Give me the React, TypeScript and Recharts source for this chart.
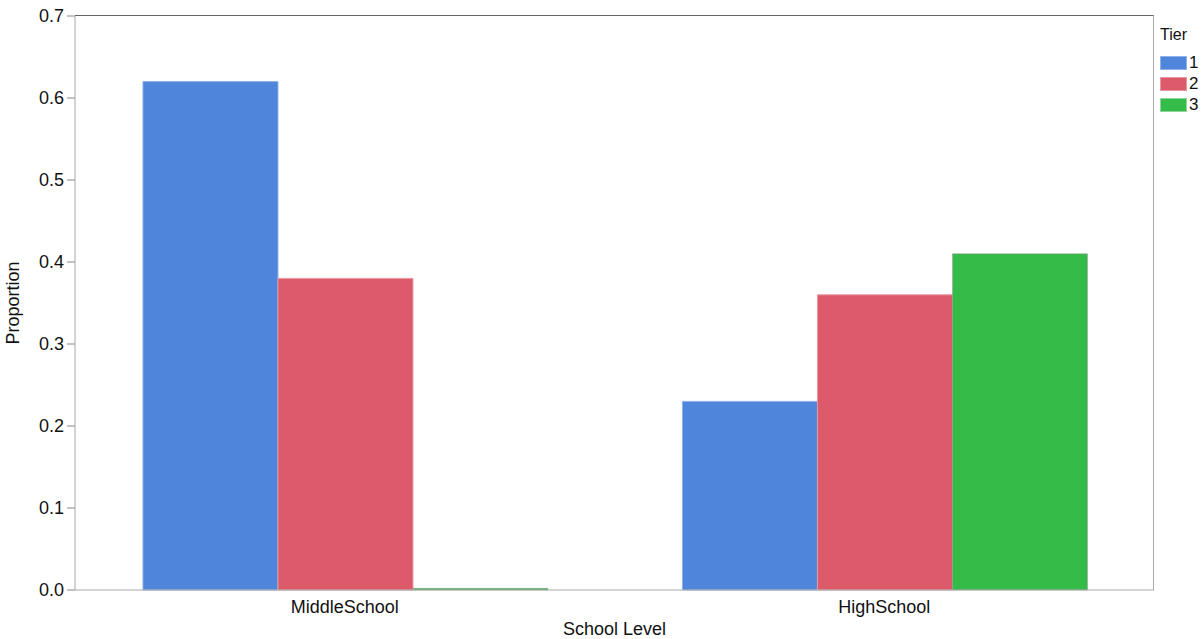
import React from "react";
import { BarChart, Bar, XAxis, YAxis, Label } from "recharts";

const categories = ["MiddleSchool", "HighSchool"];
const tiers = ["1", "2", "3"];
const tier1 = [0.62, 0.23];
const tier2 = [0.38, 0.36];
const tier3 = [0.002, 0.41];
const yTicks = [0, 0.1, 0.2, 0.3, 0.4, 0.5, 0.6, 0.7];

const colors = ["#5085dc", "#dc5a6a", "#34bb48"];
const strokes = ["#8fb0e8", "#e89aa4", "#8fd49a"];

const data = categories.map((c, i) => ({
  level: c,
  t1: tier1[i],
  t2: tier2[i],
  t3: tier3[i],
}));

const FONT = "'Liberation Sans', Arial, Helvetica, sans-serif";

export default function App() {
  const keys = ["t1", "t2", "t3"];
  return (
    <div style={{ position: "absolute", left: 0, top: 0, width: 1202, height: 639, background: "#fff", fontFamily: FONT }}>
      <BarChart
        width={1202}
        height={639}
        data={data}
        margin={{ top: 16, right: 48, left: 15, bottom: 9 }}
        barCategoryGap="12.6%"
        barGap={0}
      >
        <XAxis
          dataKey="level"
          height={40}
          tickLine={false}
          axisLine={{ stroke: "#aaa" }}
          tick={{ fill: "#111", fontSize: 18, fontFamily: FONT }}
          tickMargin={4}
        >
          <Label value="School Level" position="insideBottom" offset={-5} style={{ fill: "#111", fontSize: 18, fontFamily: FONT }} />
        </XAxis>
        <YAxis
          domain={[0, 0.7]}
          ticks={yTicks}
          tickFormatter={(v: number) => v.toFixed(1)}
          width={60}
          axisLine={{ stroke: "#aaa" }}
          tickLine={{ stroke: "#888" }}
          tickSize={8}
          tickMargin={3}
          tick={{ fill: "#111", fontSize: 18, fontFamily: FONT }}
          interval={0}
        >
          <Label value="Proportion" angle={-90} position="insideLeft" offset={-2} style={{ fill: "#111", fontSize: 18, fontFamily: FONT, textAnchor: "middle" }} />
        </YAxis>
        {keys.map((k, i) => (
          <Bar key={k} dataKey={k} name={tiers[i]} fill={colors[i]} stroke={i === 2 ? "#999" : strokes[i]} strokeWidth={i === 2 ? 0.5 : 1} isAnimationActive={false} />
        ))}
      </BarChart>
      <div
        style={{
          position: "absolute",
          left: 75,
          top: 15,
          width: 1079,
          height: 575,
          borderTop: "1px solid #666",
          borderRight: "1px solid #aaa",
          boxSizing: "border-box",
          pointerEvents: "none",
        }}
      />
      <div style={{ position: "absolute", left: 1160, top: 24, color: "#111", fontFamily: FONT }}>
        <div style={{ height: 28, lineHeight: "22px", fontSize: 16 }}>Tier</div>
        {tiers.map((t, i) => (
          <div key={t} style={{ display: "flex", alignItems: "center", height: 21 }}>
            <div style={{ width: 27, height: 14, background: colors[i], border: "1px solid " + strokes[i], boxSizing: "border-box" }} />
            <span style={{ marginLeft: 2, fontSize: 17 }}>{t}</span>
          </div>
        ))}
      </div>
    </div>
  );
}
